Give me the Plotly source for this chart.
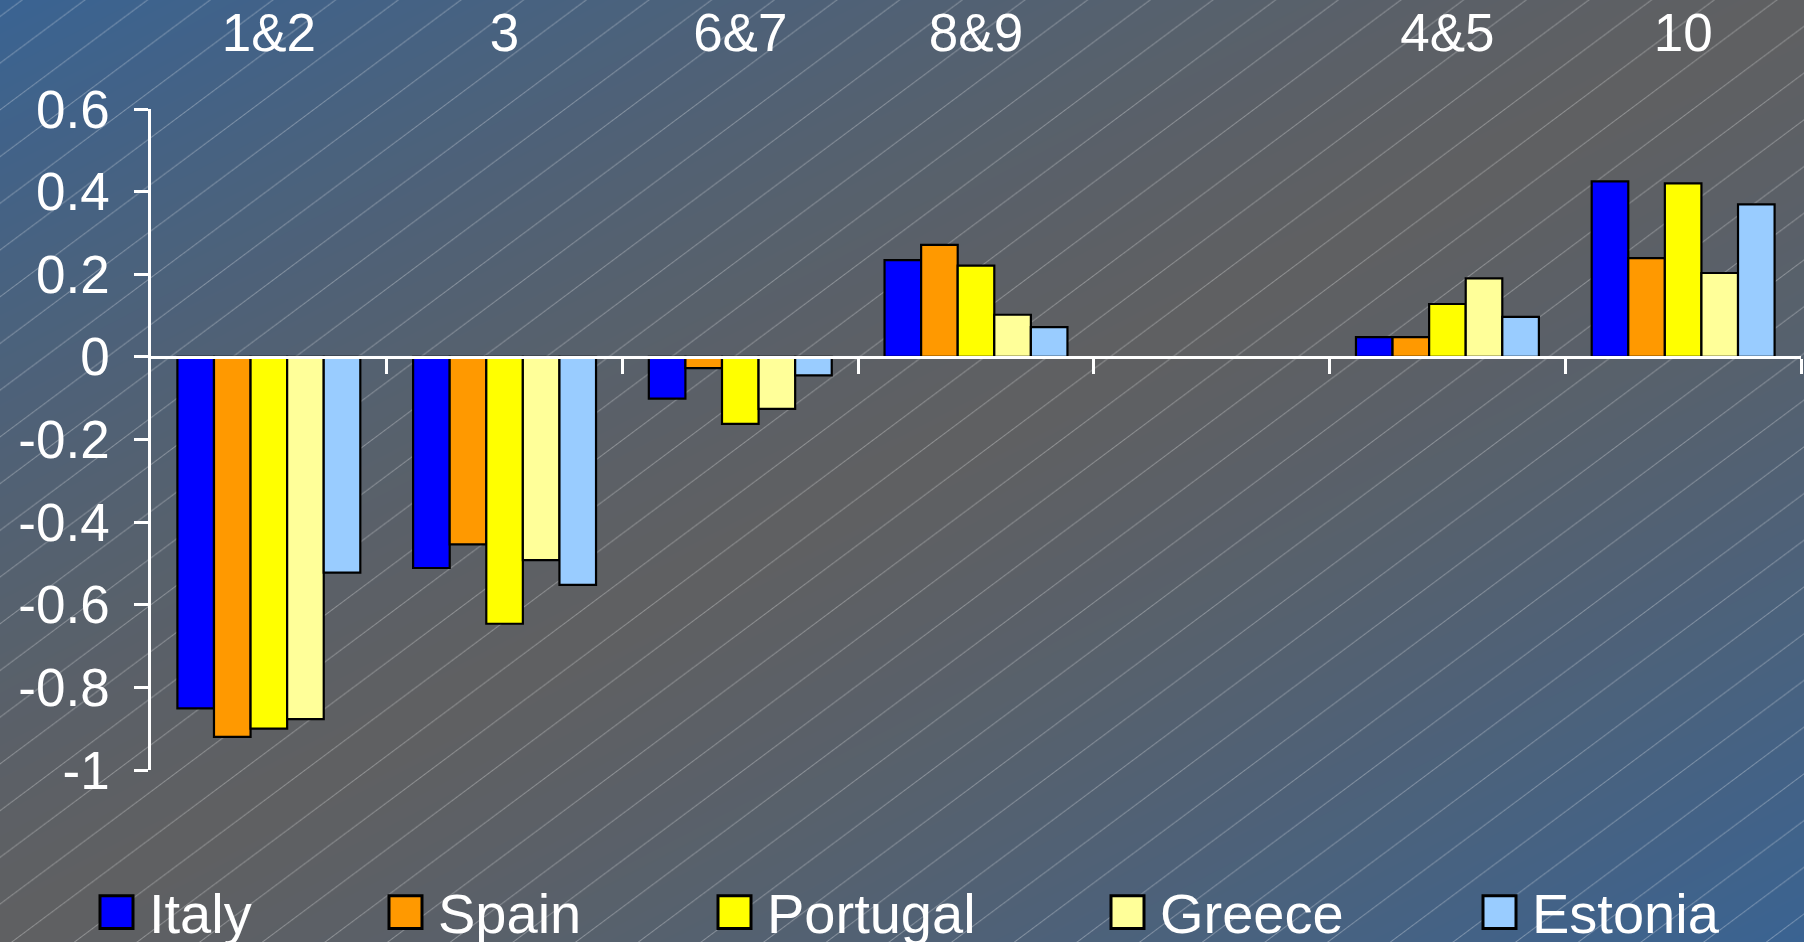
import base64
import struct
import zlib

import numpy as np
import plotly.graph_objects as go

# ---------------- data ----------------
categories = ["1&2", "3", "6&7", "8&9", "", "4&5", "10"]
countries = ["Italy", "Spain", "Portugal", "Greece", "Estonia"]
italy = [-0.851, -0.511, -0.101, 0.234, None, 0.048, 0.425]
spain = [-0.920, -0.454, -0.027, 0.271, None, 0.048, 0.239]
portugal = [-0.900, -0.646, -0.162, 0.221, None, 0.128, 0.420]
greece = [-0.877, -0.492, -0.126, 0.102, None, 0.190, 0.203]
estonia = [-0.522, -0.552, -0.045, 0.072, None, 0.097, 0.369]
series = [italy, spain, portugal, greece, estonia]
y_tick_values = [0.6, 0.4, 0.2, 0.0, -0.2, -0.4, -0.6, -0.8, -1.0]
y_tick_labels = ["0.6", "0.4", "0.2", "0", "-0.2", "-0.4", "-0.6", "-0.8", "-1"]

# ---------------- style ----------------
colors = ["#0000FF", "#FF9900", "#FFFF00", "#FFFF99", "#99CCFF"]
W, H = 1804, 942
ML, MR, MT, MB = 151, 3, 105, 172
PW, PH = W - ML - MR, H - MT - MB
FONT = "Liberation Sans, Arial, Helvetica, sans-serif"
legend_left_px = [100, 389, 718, 1111, 1483]
legend_box = 33
legend_center_y = 913
BLEED = 6


def px2x(px):
    return (px - ML) / PW


def py2y(py):
    return (H - MB - py) / PH


# ---------------- background image (gradient + hatch) ----------------
def make_background():
    Hb, Wb = H + 2 * BLEED, W + 2 * BLEED
    yy, xx = np.mgrid[0:Hb, 0:Wb].astype(np.float64)
    yy -= BLEED
    xx -= BLEED
    t = xx / W + yy / H
    f = np.clip(np.abs(t - 1.0), 0, 1) ** 1.35
    blue = np.array([58.0, 99.0, 146.0])
    gray = np.array([95.0, 96.0, 98.0])
    img = gray[None, None, :] * (1 - f[..., None]) + blue[None, None, :] * f[..., None]
    # diagonal hatch lines (rising to the right)
    s = 47.0
    c = 0.75 * xx + yy - 11.0
    d = np.mod(c, s)
    dist = np.minimum(d, s - d) / 1.25
    a = np.clip(1.0 - dist, 0, 1) * 0.30
    img = img * (1 - a[..., None]) + 255.0 * a[..., None]
    arr = np.clip(np.round(img), 0, 255).astype(np.uint8)
    rows = arr.reshape(Hb, Wb * 3).astype(np.int16)
    filt = rows.copy()
    filt[:, 3:] = np.mod(rows[:, 3:] - rows[:, :-3], 256)
    filt = filt.astype(np.uint8)
    raw = np.hstack([np.ones((Hb, 1), dtype=np.uint8), filt]).tobytes()

    def chunk(tag, data):
        return (struct.pack(">I", len(data)) + tag + data
                + struct.pack(">I", zlib.crc32(tag + data) & 0xFFFFFFFF))

    png = (b"\x89PNG\r\n\x1a\n"
           + chunk(b"IHDR", struct.pack(">IIBBBBB", Wb, Hb, 8, 2, 0, 0, 0))
           + chunk(b"IDAT", zlib.compress(raw, 9))
           + chunk(b"IEND", b""))
    return "data:image/png;base64," + base64.b64encode(png).decode()


bg_src = make_background()

# ---------------- figure ----------------
fig = go.Figure()
xs = list(range(len(categories)))
for name, vals, col in zip(countries, series, colors):
    fig.add_trace(go.Bar(
        x=xs, y=vals, name=name,
        marker=dict(color=col, line=dict(color="black", width=2.2)),
        showlegend=False,
    ))

fig.update_layout(
    width=W, height=H,
    margin=dict(l=ML, r=MR, t=MT, b=MB, pad=0),
    paper_bgcolor="#4f607a",
    plot_bgcolor="rgba(0,0,0,0)",
    barmode="group", bargap=0.224, bargroupgap=0,
    font=dict(family=FONT, color="white", size=53),
    xaxis=dict(
        range=[-0.5, len(categories) - 0.5],
        side="top",
        tickmode="array", tickvals=xs, ticktext=categories,
        showline=False, showgrid=False, zeroline=False, ticks="",
        tickfont=dict(size=53, color="white", family=FONT),
        ticklabelstandoff=46,
    ),
    xaxis2=dict(
        overlaying="x", matches="x", anchor="free",
        position=(0 - (-1.0)) / (0.6 - (-1.0)),
        range=[-0.5, len(categories) - 0.5],
        tickmode="array", tickvals=[i + 0.5 for i in xs],
        showticklabels=False,
        showline=True, linecolor="white", linewidth=2.5,
        ticks="outside", ticklen=15, tickwidth=2.5, tickcolor="white",
        showgrid=False, zeroline=False,
    ),
    yaxis=dict(
        range=[-1.0, 0.6],
        tickmode="array", tickvals=y_tick_values, ticktext=y_tick_labels,
        showline=True, linecolor="white", linewidth=2.5,
        ticks="outside", ticklen=14, tickwidth=2.5, tickcolor="white",
        showgrid=False, zeroline=False,
        tickfont=dict(size=53, color="white", family=FONT),
        ticklabelstandoff=14,
    ),
    images=[dict(
        source=bg_src, xref="paper", yref="paper",
        x=-(ML + BLEED) / PW, y=1 + (MT + BLEED) / PH,
        sizex=(W + 2 * BLEED) / PW, sizey=(H + 2 * BLEED) / PH,
        xanchor="left", yanchor="top", sizing="stretch", layer="below",
    )],
)

# invisible trace so xaxis2 is drawn
fig.add_trace(go.Scatter(x=[None], y=[None], xaxis="x2", yaxis="y",
                         showlegend=False, hoverinfo="skip"))

# legend drawn as keys + labels
shapes = []
annotations = []
for name, col, lx in zip(countries, colors, legend_left_px):
    shapes.append(dict(
        type="rect", xref="paper", yref="paper",
        x0=px2x(lx), x1=px2x(lx + legend_box),
        y0=py2y(legend_center_y + legend_box / 2), y1=py2y(legend_center_y - legend_box / 2),
        fillcolor=col, line=dict(color="black", width=3),
    ))
    annotations.append(dict(
        text=name, xref="paper", yref="paper", showarrow=False,
        x=px2x(lx + legend_box + 14), y=py2y(legend_center_y + 1),
        xanchor="left", yanchor="middle",
        font=dict(size=56, color="white", family=FONT),
    ))
fig.update_layout(shapes=shapes, annotations=annotations)

fig.write_html(
    "out.html",
    config={"displayModeBar": False},
    post_script="document.body.style.margin='0';document.body.style.padding='0';"
                "document.body.style.overflow='hidden';",
)
